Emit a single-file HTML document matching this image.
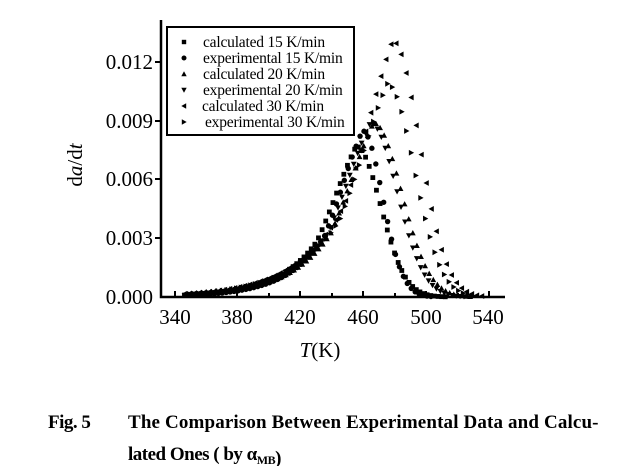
<!DOCTYPE html>
<html><head><meta charset="utf-8"><style>
body{margin:0;background:#fff;width:640px;height:466px;overflow:hidden}
svg{font-family:"Liberation Serif",serif}
</style></head><body>
<svg id="s" width="640" height="466" xmlns="http://www.w3.org/2000/svg">
<g fill="#000" font-size="21" text-anchor="end">
<text x="153" y="304">0.000</text>
<text x="153" y="245">0.003</text>
<text x="153" y="186">0.006</text>
<text x="153" y="128">0.009</text>
<text x="153" y="69">0.012</text>
</g>
<g font-size="21" text-anchor="middle">
<text x="175" y="324">340</text><text x="237" y="324">380</text><text x="300" y="324">420</text>
<text x="363" y="324">460</text><text x="426" y="324">500</text><text x="488" y="324">540</text>
<text x="320" y="357"><tspan font-style="italic">T</tspan>(K)</text>
<text transform="translate(82,165) rotate(-90)">d<tspan font-style="italic">a</tspan>/d<tspan font-style="italic">t</tspan></text>
</g>
<path d="M161 20V297H505" fill="none" stroke="#000" stroke-width="2.5"/>
<g stroke="#000" stroke-width="2">
<path d="M155 62H161M155 121H161M155 179H161M155 238H161"/>
<path d="M175 297V291M206 297V293M237 297V291M269 297V293M300 297V291M332 297V293M363 297V291M395 297V293M426 297V291M458 297V293M489 297V291"/>
</g>
<g id="pts"></g>
<rect x="167" y="27" width="187" height="108" fill="#fff" stroke="#000" stroke-width="2"/>
<g font-size="15.5" letter-spacing="-0.2">
<text x="203" y="47">calculated 15 K/min</text>
<text x="203" y="63">experimental 15 K/min</text>
<text x="203" y="79">calculated 20 K/min</text>
<text x="203" y="95">experimental 20 K/min</text>
<text x="202" y="111">calculated 30 K/min</text>
<text x="205" y="127">experimental 30 K/min</text>
</g>
<g id="leg"></g>
<g font-family="Liberation Serif,serif" font-weight="bold" font-size="19" letter-spacing="-0.5">
<text x="48" y="428">Fig. 5</text>
<text x="128" y="428" textLength="470" lengthAdjust="spacing">The Comparison Between Experimental Data and Calcu-</text>
<text x="128" y="460">lated Ones ( by α<tspan font-size="12" dy="4">MB</tspan>)</text>
</g>
</svg>
<script>
function X(T){return 175+(T-340)*1.575}
function Y(v){return 297-v*19560}
function mk(t,x,y,s){s=s||2.4;
 if(t==0)return `<rect x="${x-s}" y="${y-s}" width="${2*s}" height="${2*s}"/>`;
 if(t==1)return `<circle cx="${x}" cy="${y}" r="${s+0.3}"/>`;
 if(t==2)return `<path d="M${x} ${y-s-0.5}L${x+s+0.5} ${y+s}L${x-s-0.5} ${y+s}Z"/>`;
 if(t==3)return `<path d="M${x} ${y+s+0.5}L${x+s+0.5} ${y-s}L${x-s-0.5} ${y-s}Z"/>`;
 if(t==4)return `<path d="M${x-s-0.5} ${y}L${x+s} ${y-s-0.5}L${x+s} ${y+s+0.5}Z"/>`;
 return `<path d="M${x+s+0.5} ${y}L${x-s} ${y-s-0.5}L${x-s} ${y+s+0.5}Z"/>`;}
// Tp, A, wl, wr, step, start, end
var S=[[455,0.0077,25,22,2.3,346,512],[459,0.0085,24,18,2.5,350,503],[466,0.0089,27,25,2.6,348,528],[464,0.0089,27,24,2.5,351,526],[478,0.0131,30,24,3.2,346,535],[475,0.0109,30,24,3.0,349,532]];
var h='';
S.forEach((p,i)=>{for(var T=p[5];T<p[6];T+=p[4]){var d=T-p[0];var v;
 if(d<0){var r=-d/p[2];v=p[1]*Math.exp(-(r<1?r*r*0.5+0.5*r:r));}else v=p[1]*Math.exp(-Math.pow(d/p[3],2));
 h+=mk(i,X(T),Y(v))}});
document.getElementById('pts').innerHTML=h;
var l='';for(var i=0;i<6;i++)l+=mk(i,184,42+i*16,2.2);
document.getElementById('leg').innerHTML=l;
</script>
</body></html>
